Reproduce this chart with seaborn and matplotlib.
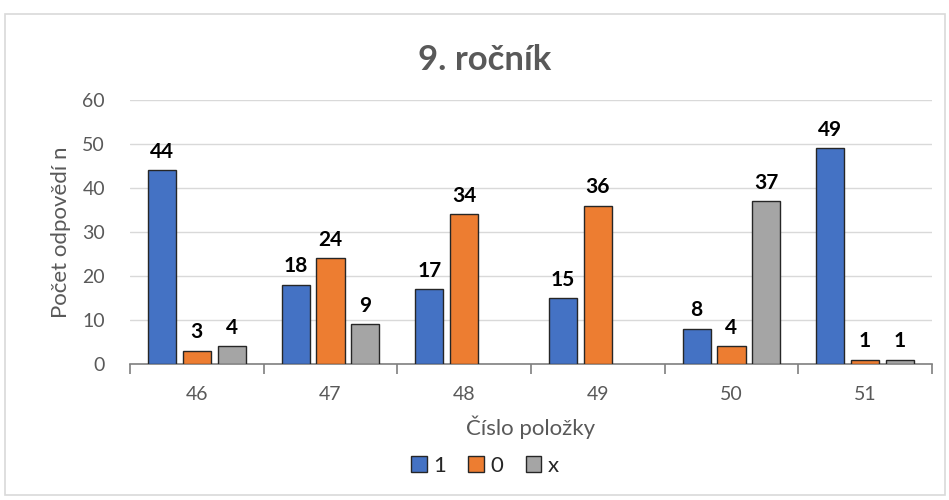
import pandas as pd
import numpy as np
import matplotlib
matplotlib.use('Agg')
import matplotlib.pyplot as plt
from matplotlib.patches import Rectangle
import seaborn as sns

# data
items = ['46', '47', '48', '49', '50', '51']
answers = ['1', '0', 'x']
val_1 = [44, 18, 17, 15, 8, 49]
val_0 = [3, 24, 34, 36, 4, 1]
val_x = [4, 9, 0, 0, 37, 1]
colors = ['#4472C4', '#ED7D31', '#A5A5A5']

df = pd.DataFrame({
    'polozka': items * 3,
    'odpoved': [a for a in answers for _ in items],
    'n': val_1 + val_0 + val_x,
})

sns.set_theme(style='white')
plt.rcParams['font.family'] = ['Lato', 'DejaVu Sans']

fig = plt.figure(figsize=(9.49, 5.0), dpi=100)
ax = fig.add_axes([0.137, 0.272, 0.845, 0.528])

# outer chart border
fig.patches.append(Rectangle((5/949, 5/500), 940/949, 481/500, transform=fig.transFigure,
                             fill=False, edgecolor='#D9D9D9', linewidth=1.2))

sns.barplot(data=df, x='polozka', y='n', hue='odpoved', order=items, hue_order=answers,
            palette=dict(zip(answers, colors)), saturation=1, width=0.78, gap=0.19,
            edgecolor='#262626', linewidth=1.0, ax=ax, legend=False, zorder=3)

for cont in ax.containers:
    labs = []
    for b in cont:
        if b.get_height() == 0:
            b.set_visible(False)
            labs.append('')
        else:
            labs.append(str(int(b.get_height())))
    ax.bar_label(cont, labels=labs, padding=6, fontsize=15, fontweight='bold', color='black')

ax.set_ylim(0, 60)
ax.set_yticks(range(0, 61, 10))
ax.set_xlim(-0.5, len(items) - 0.5)
ax.grid(axis='y', color='#D9D9D9', linewidth=1, zorder=0)
ax.set_axisbelow(True)
for s in ['top', 'right', 'left']:
    ax.spines[s].set_visible(False)
ax.spines['bottom'].set_color('#7F7F7F')
ax.spines['bottom'].set_linewidth(1.2)

ax.set_xticks(np.arange(-0.5, len(items), 1), minor=True)
ax.tick_params(axis='x', which='minor', length=7, width=1.2, color='#7F7F7F', direction='out', bottom=True)
ax.tick_params(axis='x', which='major', length=0, pad=16, labelsize=14, labelcolor='#595959')
ax.tick_params(axis='y', length=0, pad=18, labelsize=14, labelcolor='#595959')

ax.set_xlabel('Číslo položky', fontsize=16, color='#595959', labelpad=9)
ax.set_ylabel('Počet odpovědí n', fontsize=16, color='#595959', labelpad=8)
fig.text(485/949, 1 - 60/500, '9. ročník', fontsize=25, fontweight='bold', color='#595959',
         ha='center', va='center')

handles = [Rectangle((0, 0), 1, 1, facecolor=c, edgecolor='#262626', linewidth=1.0) for c in colors]
fig.legend(handles, answers, loc='center', bbox_to_anchor=(485/949, 1 - 466/500), ncol=3, frameon=False,
           fontsize=16, handlelength=0.7, handleheight=0.7, handletextpad=0.3, columnspacing=1.0)

fig.savefig('out.png', dpi=100)
